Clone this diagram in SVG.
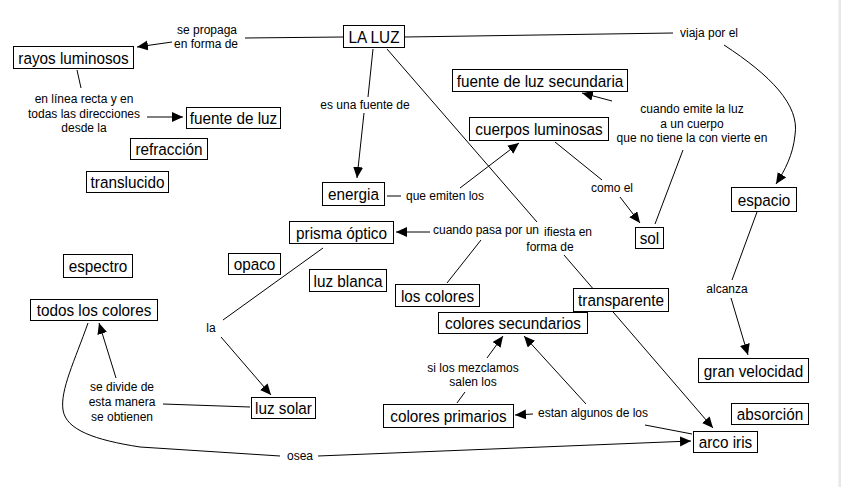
<svg xmlns="http://www.w3.org/2000/svg" width="841" height="487" viewBox="0 0 841 487">
<style>
.n rect{fill:#fff;stroke:#000;stroke-width:1}
.n text{font-family:"Liberation Sans",Arial,sans-serif;font-size:17px;text-anchor:middle;fill:#000}
.l{font-family:"Liberation Sans",Arial,sans-serif;font-size:12px;text-anchor:middle;fill:#000}
#connectors path{fill:none;stroke:#000;stroke-width:1}
.a{marker-end:url(#ah)}
</style>
<defs>
<marker id="ah" markerUnits="userSpaceOnUse" markerWidth="12" markerHeight="11" refX="11" refY="5" orient="auto"><path d="M0,0 L11,5 L0,10 z" fill="#000"/></marker>
</defs>
<rect width="841" height="487" fill="#fff"/>
<rect x="838.5" y="0" width="2.5" height="487" fill="#e8e8e8"/>
<g id="connectors">
<path d="M343,37 L245,38"/>
<path class="a" d="M172,42 L137,47"/>
<path d="M77,70 L81,88"/>
<path class="a" d="M147,117 L183,117"/>
<path d="M373,49 L368,97"/>
<path class="a" d="M364,113 L357,178"/>
<path d="M405,37 L673,33"/>
<path class="a" d="M724,45 C770,75 800,105 795,135 C793,155 785,170 776,184"/>
<path d="M387,49 L537,222"/>
<path class="a" d="M564,255 L713,428"/>
<path d="M387,196 L401,196"/>
<path class="a" d="M460,188 L519,143"/>
<path d="M555,142 L602,180"/>
<path class="a" d="M620,197 L640,223"/>
<path d="M655,224 L683,150"/>
<path class="a" d="M612,101 L582,93"/>
<path d="M447,283 L481,240"/>
<path class="a" d="M430,232 L396,232"/>
<path d="M323,248 L223,320"/>
<path class="a" d="M221,337 L271,395"/>
<path d="M250,407 L163,404"/>
<path class="a" d="M116,378 L99,323"/>
<path d="M88,323 C75,360 60,390 63,410 C66,430 95,440 140,447 L280,456"/>
<path class="a" d="M318,456 L691,441"/>
<path d="M692,434 L645,425"/>
<path class="a" d="M533,414 L515,415"/>
<path class="a" d="M586,404 L524,336"/>
<path d="M457,403 L465,392"/>
<path class="a" d="M487,358 L503,336"/>
<path d="M757,212 L732,280"/>
<path class="a" d="M731,298 L748,355"/>
</g>
<g id="labels">
<text class="l" x="207" y="34">se propaga</text>
<text class="l" x="206" y="48">en forma de</text>
<text class="l" x="84" y="103">en línea recta y en</text>
<text class="l" x="84" y="118">todas las direcciones</text>
<text class="l" x="84" y="132">desde la</text>
<text class="l" x="365" y="109">es una fuente de</text>
<text class="l" x="709" y="37">viaja por el</text>
<text class="l" x="445" y="200">que emiten los</text>
<text class="l" x="612" y="192">como el</text>
<text class="l" x="692" y="113">cuando emite la luz</text>
<text class="l" x="692" y="128">a un cuerpo</text>
<text class="l" x="692" y="142">que no tiene la con vierte en</text>
<text class="l" x="544" y="236" style="text-anchor:start">ifiesta en</text>
<text class="l" x="550" y="251">forma de</text>
<text class="l" x="486" y="234">cuando pasa por un</text>
<text class="l" x="211" y="332">la</text>
<text class="l" x="122" y="391">se divide de</text>
<text class="l" x="122" y="406">esta manera</text>
<text class="l" x="122" y="421">se obtienen</text>
<text class="l" x="300" y="460">osea</text>
<text class="l" x="593" y="417">estan algunos de los</text>
<text class="l" x="473" y="372">si los mezclamos</text>
<text class="l" x="473" y="386">salen los</text>
<text class="l" x="727" y="293">alcanza</text>
</g>
<g id="n-laluz" class="n"><rect x="343.5" y="25.5" width="61" height="22"/><text transform="translate(374,42.5) scale(0.9,1)">LA LUZ</text></g>
<g id="n-rayos" class="n"><rect x="13.5" y="46.5" width="120" height="22"/><text transform="translate(73.5,63.5) scale(0.9,1)">rayos luminosos</text></g>
<g id="n-fuenteluz" class="n"><rect x="186.5" y="107.5" width="94" height="21"/><text transform="translate(233.5,123.5) scale(0.9,1)">fuente de luz</text></g>
<g id="n-refraccion" class="n"><rect x="130.5" y="138.5" width="77" height="21"/><text transform="translate(169,154.5) scale(0.9,1)">refracción</text></g>
<g id="n-translucido" class="n"><rect x="86.5" y="171.5" width="82" height="21"/><text transform="translate(127.5,187.5) scale(0.9,1)">translucido</text></g>
<g id="n-energia" class="n"><rect x="322.5" y="182.5" width="62" height="23"/><text transform="translate(353.5,199.5) scale(0.9,1)">energia</text></g>
<g id="n-prisma" class="n"><rect x="289.5" y="221.5" width="104" height="22"/><text transform="translate(341.5,238.5) scale(0.9,1)">prisma óptico</text></g>
<g id="n-fuentesec" class="n"><rect x="452.5" y="69.5" width="175" height="22"/><text transform="translate(540,86.5) scale(0.9,1)">fuente de luz secundaria</text></g>
<g id="n-cuerpos" class="n"><rect x="469.5" y="117.5" width="139" height="23"/><text transform="translate(539,135) scale(0.9,1)">cuerpos luminosas</text></g>
<g id="n-espacio" class="n"><rect x="731.5" y="187.5" width="65" height="24"/><text transform="translate(764,205.5) scale(0.9,1)">espacio</text></g>
<g id="n-sol" class="n"><rect x="635.5" y="227.5" width="28" height="21"/><text transform="translate(649.5,243.5) scale(0.9,1)">sol</text></g>
<g id="n-loscolores" class="n"><rect x="395.5" y="284.5" width="84" height="22"/><text transform="translate(437.5,301.5) scale(0.9,1)">los colores</text></g>
<g id="n-luzblanca" class="n"><rect x="309.5" y="269.5" width="77" height="22"/><text transform="translate(348,286.5) scale(0.9,1)">luz blanca</text></g>
<g id="n-transparente" class="n"><rect x="573.5" y="288.5" width="95" height="23"/><text transform="translate(621,306) scale(0.9,1)">transparente</text></g>
<g id="n-colsec" class="n"><rect x="438.5" y="312.5" width="149" height="21"/><text transform="translate(513,328.5) scale(0.9,1)">colores secundarios</text></g>
<g id="n-colprim" class="n"><rect x="383.5" y="404.5" width="130" height="23"/><text transform="translate(448.5,422) scale(0.9,1)">colores primarios</text></g>
<g id="n-arcoiris" class="n"><rect x="693.5" y="431.5" width="64" height="21"/><text transform="translate(725.5,447.5) scale(0.9,1)">arco iris</text></g>
<g id="n-absorcion" class="n"><rect x="731.5" y="403.5" width="77" height="21"/><text transform="translate(770,419.5) scale(0.9,1)">absorción</text></g>
<g id="n-granvel" class="n"><rect x="698.5" y="358.5" width="110" height="24"/><text transform="translate(753.5,376.5) scale(0.9,1)">gran velocidad</text></g>
<g id="n-espectro" class="n"><rect x="63.5" y="254.5" width="69" height="23"/><text transform="translate(98,272) scale(0.9,1)">espectro</text></g>
<g id="n-todos" class="n"><rect x="30.5" y="299.5" width="127" height="21"/><text transform="translate(94,315.5) scale(0.9,1)">todos los colores</text></g>
<g id="n-opaco" class="n"><rect x="228.5" y="253.5" width="52" height="21"/><text transform="translate(254.5,269.5) scale(0.9,1)">opaco</text></g>
<g id="n-luzsolar" class="n"><rect x="251.5" y="397.5" width="64" height="21"/><text transform="translate(283.5,413.5) scale(0.9,1)">luz solar</text></g>
</svg>
